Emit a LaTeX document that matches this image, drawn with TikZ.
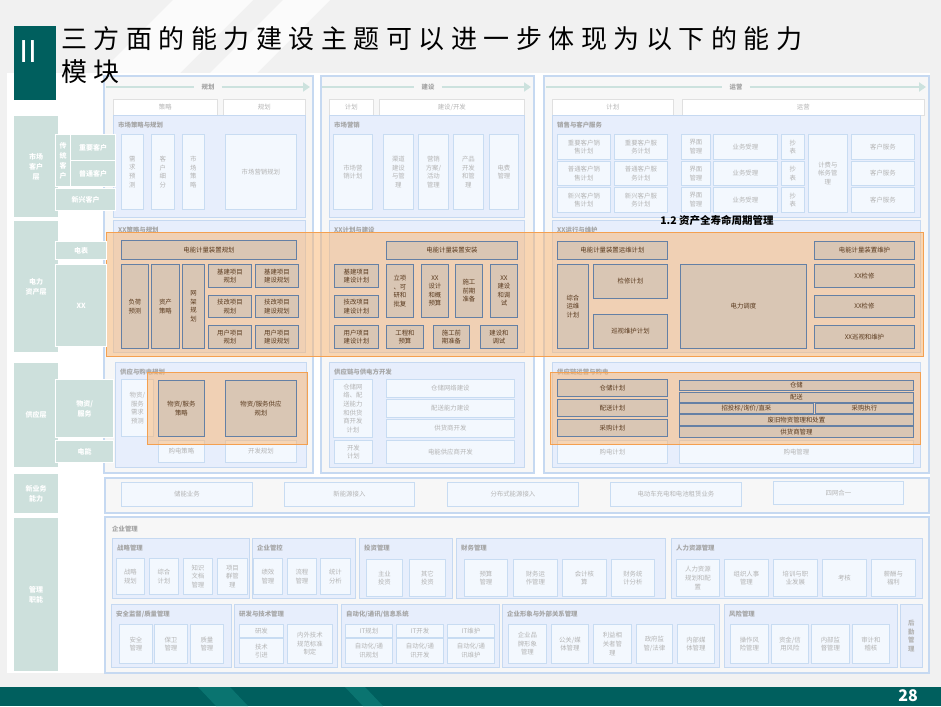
\documentclass[tikz,border=0pt]{standalone}
\usepackage{fontspec}
\setmainfont{Noto Sans CJK SC}
\setsansfont{Noto Sans CJK SC}
\newfontfamily\titlefont[LetterSpace=25]{Noto Sans CJK SC}
\usepackage{xcolor}
\usepackage{tikz}
\usetikzlibrary{positioning,arrows.meta,calc}
\definecolor{pagegray}{RGB}{241,241,241}
\definecolor{deepteal}{RGB}{0,95,94}
\definecolor{barlight}{RGB}{10,116,112}
\definecolor{leftcol}{RGB}{205,224,220}
\definecolor{frameblue}{RGB}{198,217,241}
\definecolor{colbg}{RGB}{247,247,247}
\definecolor{bandblue}{RGB}{231,238,252}
\definecolor{fadebox}{RGB}{243,248,254}
\definecolor{fadeline}{RGB}{200,220,242}
\definecolor{fadetext}{RGB}{180,180,180}
\definecolor{lbltext}{RGB}{165,165,165}
\definecolor{arrowteal}{RGB}{204,226,222}
\definecolor{hlorange}{RGB}{250,180,110}
\definecolor{hlline}{RGB}{244,160,80}
\definecolor{boxbrown}{RGB}{217,198,180}
\definecolor{boxline}{RGB}{100,128,165}
\definecolor{boxtext}{RGB}{90,58,30}
\newcommand{\tinyfont}{\fontsize{6.4}{8.6}\selectfont}
\newcommand{\leftfont}{\fontsize{7}{10}\selectfont\bfseries}
\newcommand{\blk}[7]{\node[#1,anchor=north west,minimum width={(#5-#3)*1pt},minimum height={(#6-#4)*1pt}] (#2) at (#3,#4) {#7};}
\newcommand{\band}[6]{\blk{bandbox}{#1}{#2}{#3}{#4}{#5}{}\node[bandlbl,anchor=west] (#1-l) at (#2+5,#3+10) {#6};}
\tikzset{
  lbox/.style={fill=leftcol,draw=white,line width=1.2pt,text=white,font=\leftfont,inner sep=0pt,align=center},
  colframe/.style={fill=colbg,draw=frameblue,line width=1.6pt,inner sep=0pt},
  bandbox/.style={fill=bandblue,draw=frameblue,line width=0.8pt,inner sep=0pt},
  bandlbl/.style={text=lbltext,font=\tinyfont\bfseries,inner sep=0pt},
  fbox/.style={fill=fadebox,draw=fadeline,line width=0.8pt,text=fadetext,font=\tinyfont,inner sep=0pt,align=center},
  subhead/.style={fill=white,draw=black!12,line width=0.6pt,text=fadetext,font=\tinyfont,inner sep=0pt},
  hlzone/.style={fill=hlorange,fill opacity=0.5,draw=hlline,line width=1pt,inner sep=0pt},
  bbox/.style={fill=boxbrown,draw=boxline,line width=0.9pt,text=boxtext,font=\tinyfont,inner sep=0pt,align=center},
  hdr/.style={text=lbltext,font=\tinyfont\bfseries,inner sep=7pt},
  hline/.style={draw=arrowteal,line width=2.4pt},
}

\begin{document}
\begin{tikzpicture}[x=1pt,y=-1pt]
\useasboundingbox (0,0) rectangle (941,706);
% page background
\fill[pagegray] (0,0) rectangle (941,706);
\fill[white,opacity=0.75] (173,0) -- (253,0) -- (180,73) -- (100,73) -- cycle;
\fill[white,opacity=0.75] (283,0) -- (330,0) -- (257,73) -- (210,73) -- cycle;
\fill[white] (7,73) rectangle (930,673);
% bottom bar
\fill[deepteal] (0,687) rectangle (941,706);
\fill[barlight] (198,687) -- (230,687) -- (248,706) -- (216,706) -- cycle;
\fill[barlight] (345,687) -- (365,687) -- (383,706) -- (363,706) -- cycle;
\node[text=white,font=\fontsize{16}{16}\selectfont\bfseries] (pageno) at (908,696) {28};

% column frames and headers
\blk{colframe}{col1}{103}{75}{312}{472}{}
\blk{colframe}{col2}{320}{75}{533}{472}{}
\blk{colframe}{col3}{543}{75}{928}{472}{}
\foreach \n/\xa/\xm/\xb/\t in {h1/106/208/310/规划, h2/322/428/531/建设, h3/546/736/926/运营}{
  \coordinate (\n s) at (\xa,87);
  \coordinate (\n e) at (\xb,87);
  \node[hdr] (\n) at (\xm,87) {\t};
  \draw[hline] (\n s) -- (\n);
  \draw[hline,-{Triangle[length=7pt,width=9pt]}] (\n) -- (\n e);
}
\blk{subhead}{s11}{113}{99}{217}{115}{策略}
\blk{subhead}{s12}{223}{99}{305}{115}{规划}
\blk{subhead}{s21}{329}{99}{373}{115}{计划}
\blk{subhead}{s22}{379}{99}{524}{115}{建设/开发}
\blk{subhead}{s31}{552}{99}{673}{115}{计划}
\blk{subhead}{s32}{682}{99}{924}{115}{运营}

% bands
\band{b11}{113}{115}{305}{217}{市场策略与规划}
\band{b12}{113}{220}{305}{352}{XX策略与规划}
\band{b13}{115}{362}{306}{467}{供应与购电规划}
\band{b21}{329}{115}{524}{217}{市场营销}
\band{b22}{329}{220}{524}{352}{XX计划与建设}
\band{b23}{329}{362}{524}{467}{供应链与供电方开发}
\band{b31}{552}{115}{920}{217}{销售与客户服务}
\band{b32}{552}{220}{920}{352}{XX运行与维护}
\band{b33}{552}{362}{920}{467}{供应链运营与购电}

% market row
\blk{fbox}{xqyc}{121}{134}{143}{209}{需\\求\\预\\测}
\blk{fbox}{khxf}{151}{134}{174}{209}{客\\户\\细\\分}
\blk{fbox}{sccl}{182}{134}{204}{209}{市\\场\\策\\略}
\blk{fbox}{yxgh}{225}{134}{296}{209}{市场营销规划}
\blk{fbox}{yxjh}{333}{134}{372}{209}{市场营\\销计划}
\blk{fbox}{qdjs}{383}{134}{413}{209}{渠道\\建设\\与管\\理}
\blk{fbox}{yxfa}{418}{134}{448}{209}{营销\\方案/\\活动\\管理}
\blk{fbox}{cpkf}{453}{134}{483}{209}{产品\\开发\\和管\\理}
\blk{fbox}{dfgl}{489}{134}{518}{209}{电费\\管理}
\foreach \i/\ya/\yb/\t in {1/134/159/重要, 2/161/185/普通, 3/187/212/新兴}{
  \blk{fbox}{cs\i}{557}{\ya}{610}{\yb}{\t 客户销\\售计划}
  \blk{fbox}{cv\i}{614}{\ya}{667}{\yb}{\t 客户服\\务计划}
  \blk{fbox}{jm\i}{681}{\ya}{710}{\yb}{界面\\管理}
  \blk{fbox}{yw\i}{713}{\ya}{777}{\yb}{业务受理}
  \blk{fbox}{cb\i}{781}{\ya}{804}{\yb}{抄\\表}
  \blk{fbox}{kf\i}{851}{\ya}{914}{\yb}{客户服务}
}
\blk{fbox}{jfzw}{808}{134}{847}{212}{计费与\\帐务管\\理}

% supply row, faded part
\blk{fbox}{wzyc}{121}{379}{153}{436}{物资/\\服务\\需求\\预测}
\blk{fbox}{gdcl}{158}{440}{204}{462}{购电策略}
\blk{fbox}{kfgh}{225}{440}{296}{462}{开发规划}
\blk{fbox}{ccwl}{333}{379}{372}{437}{仓储网\\络、配\\送能力\\和供货\\商开发\\计划}
\blk{fbox}{ccjs}{386}{379}{514}{397}{仓储网络建设}
\blk{fbox}{psjs}{386}{399}{514}{417}{配送能力建设}
\blk{fbox}{ghkf}{386}{419}{514}{437}{供货商开发}
\blk{fbox}{kfjh}{334}{440}{372}{463}{开发\\计划}
\blk{fbox}{dnkf}{386}{440}{514}{463}{电能供应商开发}
\blk{fbox}{gdjh}{557}{440}{667}{463}{购电计划}
\blk{fbox}{gdgl}{679}{440}{913}{463}{购电管理}

% highlighted zones
\blk{hlzone}{zone1}{106}{232}{923}{356}{}
\blk{hlzone}{zone2}{147}{372}{307}{444}{}
\blk{hlzone}{zone3}{550}{372}{920}{444}{}

% asset row
\blk{bbox}{jlgh}{121}{240}{296}{259}{电能计量装置规划}
\blk{bbox}{fhyc}{121}{264}{148}{348}{负荷\\预测}
\blk{bbox}{zccl}{151}{264}{179}{348}{资产\\策略}
\blk{bbox}{wjgh}{182}{264}{204}{348}{网\\架\\规\\划}
\foreach \i/\ya/\yb/\t in {1/264/287/基建, 2/295/317/技改, 3/325/348/用户}{
  \blk{bbox}{gp\i}{208}{\ya}{251}{\yb}{\t 项目\\规划}
  \blk{bbox}{gb\i}{255}{\ya}{298}{\yb}{\t 项目\\建设规划}
  \blk{bbox}{jp\i}{334}{\ya}{378}{\yb}{\t 项目\\建设计划}
}
\blk{bbox}{jlaz}{386}{241}{517}{259}{电能计量装置安装}
\blk{bbox}{lxpf}{386}{264}{413}{317}{立项\\、可\\研和\\批复}
\blk{bbox}{sjys}{421}{264}{448}{317}{XX\\设计\\和概\\预算}
\blk{bbox}{sgzb}{455}{264}{482}{317}{施工\\前期\\准备}
\blk{bbox}{jstx}{490}{264}{517}{317}{XX\\建设\\和调\\试}
\blk{bbox}{gcys}{386}{325}{423}{348}{工程和\\预算}
\blk{bbox}{sgqq}{433}{325}{469}{348}{施工前\\期准备}
\blk{bbox}{jsts}{480}{325}{517}{348}{建设和\\调试}
\blk{bbox}{ywjh}{557}{241}{667}{259}{电能计量装置运维计划}
\blk{bbox}{zhyw}{557}{264}{588}{348}{综合\\运维\\计划}
\blk{bbox}{jxjh}{593}{264}{667}{298}{检修计划}
\blk{bbox}{xsjh}{593}{314}{667}{348}{巡视维护计划}
\blk{bbox}{dldd}{680}{264}{806}{348}{电力调度}
\blk{bbox}{jlwh}{814}{241}{914}{259}{电能计量装置维护}
\blk{bbox}{jxa}{814}{264}{914}{287}{XX检修}
\blk{bbox}{jxb}{814}{295}{914}{317}{XX检修}
\blk{bbox}{xswh}{814}{325}{914}{348}{XX巡视和维护}

% supply row, highlighted part
\blk{bbox}{wzcl}{158}{380}{204}{436}{物资/服务\\策略}
\blk{bbox}{wzgy}{225}{380}{296}{436}{物资/服务供应\\规划}
\blk{bbox}{ccjh}{557}{379}{667}{396}{仓储计划}
\blk{bbox}{psjh}{557}{399}{667}{416}{配送计划}
\blk{bbox}{cgjh}{557}{419}{667}{436}{采购计划}
\blk{bbox}{cc}{679}{380}{913}{390}{仓储}
\blk{bbox}{ps}{679}{392}{913}{402}{配送}
\blk{bbox}{ztb}{679}{403}{813}{413}{招投标/询价/直采}
\blk{bbox}{cgzx}{815}{403}{913}{413}{采购执行}
\blk{bbox}{fjwz}{679}{414}{913}{425}{废旧物资管理和处置}
\blk{bbox}{ghgl}{679}{426}{913}{437}{供货商管理}
\node[font=\fontsize{10.5}{12}\selectfont\bfseries,inner sep=0pt] (lcm) at (717,220) {1.2 资产全寿命周期管理};

% new business row
\blk{colframe}{newrow}{104}{477}{928}{512}{}
\blk{fbox}{cnyw}{121}{482}{252}{506}{储能业务}
\blk{fbox}{xnyjr}{284}{482}{414}{506}{新能源接入}
\blk{fbox}{fbsjr}{447}{482}{578}{506}{分布式能源接入}
\blk{fbox}{ddcz}{610}{482}{741}{506}{电动车充电和电池租赁业务}
\blk{fbox}{swhy}{773}{481}{903}{504}{四网合一}

% management
\blk{colframe}{mgmt}{104}{516}{928}{672}{}
\node[bandlbl,anchor=west] (mgmt-l) at (112,529) {企业管理};
\band{g11}{112}{538}{249}{598}{战略管理}
\band{g12}{252}{538}{355}{598}{企业管控}
\band{g13}{359}{538}{452}{598}{投资管理}
\band{g14}{456}{538}{665}{598}{财务管理}
\band{g15}{671}{538}{922}{598}{人力资源管理}
\blk{fbox}{zlgh}{116}{558}{144}{594}{战略\\规划}
\blk{fbox}{zhjh}{149}{558}{178}{594}{综合\\计划}
\blk{fbox}{zswd}{183}{558}{212}{594}{知识\\文档\\管理}
\blk{fbox}{xmq}{217}{558}{247}{594}{项目\\群管\\理}
\blk{fbox}{jxgl}{253}{558}{282}{594}{绩效\\管理}
\blk{fbox}{lcgl}{287}{558}{316}{594}{流程\\管理}
\blk{fbox}{tjfx}{320}{558}{350}{594}{统计\\分析}
\blk{fbox}{zytz}{366}{559}{402}{596}{主业\\投资}
\blk{fbox}{qttz}{409}{559}{445}{596}{其它\\投资}
\blk{fbox}{ysgl}{464}{559}{507}{596}{预算\\管理}
\blk{fbox}{cwyz}{513}{559}{557}{596}{财务运\\作管理}
\blk{fbox}{kjhs}{562}{559}{606}{596}{会计核\\算}
\blk{fbox}{cwtj}{611}{559}{654}{596}{财务统\\计分析}
\blk{fbox}{rlgh}{676}{559}{719}{596}{人力资源\\规划和配\\置}
\blk{fbox}{zzrs}{724}{559}{768}{596}{组织人事\\管理}
\blk{fbox}{pxfz}{773}{559}{817}{596}{培训与职\\业发展}
\blk{fbox}{kh}{822}{559}{866}{596}{考核}
\blk{fbox}{xcfl}{871}{559}{915}{596}{薪酬与\\福利}
\band{g21}{111}{604}{231}{667}{安全监督/质量管理}
\band{g22}{234}{604}{337}{667}{研发与技术管理}
\band{g23}{341}{604}{499}{667}{自动化/通讯/信息系统}
\band{g24}{502}{604}{719}{667}{企业形象与外部关系管理}
\band{g25}{724}{604}{897}{667}{风险管理}
\blk{bandbox,text=fadetext,font=\tinyfont\bfseries,align=center}{g26}{900}{604}{922}{667}{后\\勤\\管\\理}
\blk{fbox}{aqgl}{119}{624}{152}{663}{安全\\管理}
\blk{fbox}{bwgl}{154}{624}{187}{663}{保卫\\管理}
\blk{fbox}{zlgl}{190}{624}{223}{663}{质量\\管理}
\blk{fbox}{yf}{239}{624}{283}{637}{研发}
\blk{fbox}{jsyj}{239}{638}{283}{663}{技术\\引进}
\blk{fbox}{gfbz}{287}{624}{332}{663}{内外技术\\规范标准\\制定}
\blk{fbox}{itgh}{345}{624}{392}{637}{IT规划}
\blk{fbox}{zdgh}{345}{638}{392}{663}{自动化/通\\讯规划}
\blk{fbox}{itkf}{396}{624}{443}{637}{IT开发}
\blk{fbox}{zdkf}{396}{638}{443}{663}{自动化/通\\讯开发}
\blk{fbox}{itwh}{447}{624}{494}{637}{IT维护}
\blk{fbox}{zdwh}{447}{638}{494}{663}{自动化/通\\讯维护}
\blk{fbox}{ppxx}{508}{624}{546}{663}{企业品\\牌形象\\管理}
\blk{fbox}{ggmt}{551}{624}{588}{663}{公关/媒\\体管理}
\blk{fbox}{lyxg}{593}{624}{631}{663}{利益相\\关者管\\理}
\blk{fbox}{zfjg}{636}{624}{672}{663}{政府监\\管/法律}
\blk{fbox}{nbmt}{677}{624}{714}{663}{内部媒\\体管理}
\blk{fbox}{czfx}{730}{624}{768}{663}{操作风\\险管理}
\blk{fbox}{zjxy}{771}{624}{808}{663}{资金/信\\用风险}
\blk{fbox}{nbjd}{811}{624}{849}{663}{内部监\\督管理}
\blk{fbox}{sjjh}{852}{624}{889}{663}{审计和\\稽核}

% left column layers
\blk{lbox}{lmkt}{13}{115}{58}{217}{市场\\客户\\层}
\blk{lbox}{ltrad}{55}{134}{70}{186}{传\\统\\客\\户}
\blk{lbox}{limp}{70}{134}{115}{160}{重要客户}
\blk{lbox}{lnorm}{70}{160}{115}{186}{普通客户}
\blk{lbox}{lnew}{55}{188}{115}{210}{新兴客户}
\blk{lbox}{lasset}{13}{220}{58}{352}{电力\\资产层}
\blk{lbox}{lmeter}{55}{241}{106}{259}{电表}
\blk{lbox}{lxx}{55}{264}{106}{346}{XX}
\blk{lbox}{lsup}{13}{362}{58}{467}{供应层}
\blk{lbox}{lmat}{55}{379}{113}{437}{物资/\\服务}
\blk{lbox}{lpow}{55}{440}{113}{462}{电能}
\blk{lbox}{lnewb}{13}{473}{58}{513}{新业务\\能力}
\blk{lbox}{lmgmt}{13}{517}{58}{671}{管理\\职能}

% title
\blk{fill=deepteal,inner sep=0pt}{tbox}{14}{26}{56}{100}{}
\node[text=white,font=\fontsize{30}{30}\selectfont,inner sep=0pt] (tnum) at (28,52) {Ⅱ};
\node[anchor=west,inner sep=0pt,font=\titlefont\fontsize{26}{32}\selectfont] (title1) at (61,39) {三方面的能力建设主题可以进一步体现为以下的能力};
\node[anchor=west,inner sep=0pt,font=\titlefont\fontsize{26}{32}\selectfont] (title2) at (61,72) {模块};
\end{tikzpicture}
\end{document}
